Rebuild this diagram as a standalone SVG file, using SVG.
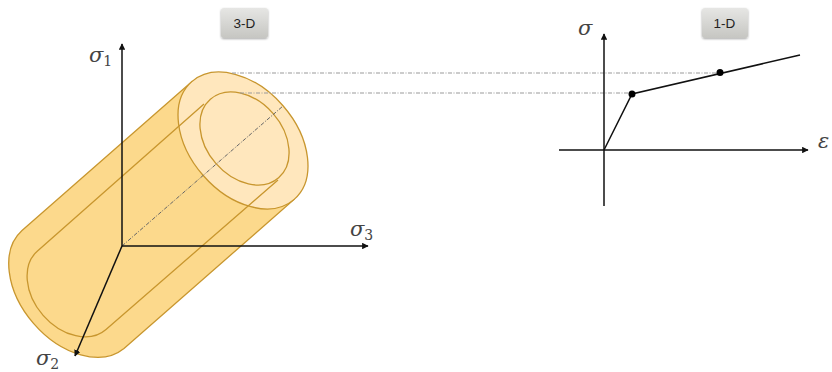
<svg xmlns="http://www.w3.org/2000/svg" width="832" height="372" viewBox="0 0 832 372">
<style>
.body{fill:#fcd98c;stroke:#c8962e;stroke-width:1.3}
.inner{fill:none;stroke:#c8962e;stroke-width:1.3}
.cap{fill:#ffe7bd;stroke:#c8962e;stroke-width:1.3}
.ax{stroke:#111;stroke-width:1.5;fill:none}
.dd{stroke:#999;stroke-width:1;stroke-dasharray:4 1.5 1 1.5;fill:none}
.dk{stroke:#666;stroke-width:1;stroke-dasharray:4 1.5 1 1.5;fill:none}
.sym{font-family:"DejaVu Serif","Liberation Serif",serif;font-style:italic;font-size:21px;fill:#444}
.sub{font-family:"DejaVu Serif","Liberation Serif",serif;font-style:normal;font-size:14px}
.btn{fill:url(#g);filter:url(#s)}
.bt{font-family:"Liberation Sans",Arial,sans-serif;font-size:13.5px;fill:#222;text-anchor:middle}
</style>
<defs>
<linearGradient id="g" x1="0" y1="0" x2="0" y2="1"><stop offset="0" stop-color="#e6e6e4"/><stop offset="1" stop-color="#c6c6c2"/></linearGradient>
<filter id="s" x="-20%" y="-20%" width="140%" height="150%"><feDropShadow dx="0" dy="1" stdDeviation="1" flood-color="#000" flood-opacity="0.35"/></filter>
<marker id="a" viewBox="0 0 10 10" refX="9" refY="5" markerWidth="6.5" markerHeight="6.5" orient="auto" markerUnits="userSpaceOnUse"><path d="M0 0L10 5L0 10z" fill="#111"/></marker>
</defs>
<g id="cylinder">
<path class="body" d="M192 81.5L22 230.5A78 53 49 0 0 124 348.5L294 199.5Z"/>
<ellipse class="cap" cx="243" cy="140.5" rx="78" ry="53" transform="rotate(49 243 140.5)"/>
<ellipse class="cap" cx="244.5" cy="138.5" rx="52" ry="38" transform="rotate(49 244.5 138.5)"/>
<path class="inner" d="M204 104L37.5 251A52 38 49 0 0 106 329.5L278 180"/>
</g>
<g id="connectors">
<path class="dk" d="M122 246L283 106"/>
<path class="dd" d="M232 73H720"/>
<path class="dd" d="M240 93H632"/>
<path class="ax" marker-end="url(#a)" d="M122 246V44"/>
<path class="ax" marker-end="url(#a)" d="M122 246H368"/>
<path class="ax" marker-end="url(#a)" d="M122 246L75 356"/>
<path class="ax" marker-end="url(#a)" d="M604 206V34"/>
<path class="ax" marker-end="url(#a)" d="M559 150H808"/>
<path class="ax" d="M604 150L632 94L800 55"/>
</g>
<g id="point-yield"><circle cx="632" cy="94" r="3.5" fill="#000"/></g>
<g id="point-hardening"><circle cx="720" cy="72.5" r="3.5" fill="#000"/></g>
<g id="label-s1"><text class="sym" x="89" y="62">σ<tspan class="sub" dy="4">1</tspan></text></g>
<g id="label-s2"><text class="sym" x="36" y="365">σ<tspan class="sub" dy="4">2</tspan></text></g>
<g id="label-s3"><text class="sym" x="350" y="236">σ<tspan class="sub" dy="4">3</tspan></text></g>
<g id="label-sigma"><text class="sym" x="578" y="35">σ</text></g>
<g id="label-eps"><text class="sym" x="818" y="148">ε</text></g>
<g id="btn-3d"><rect class="btn" x="221" y="8" width="47" height="30" rx="3"/><text class="bt" x="244.5" y="28">3-D</text></g>
<g id="btn-1d"><rect class="btn" x="702" y="8" width="46" height="30" rx="3"/><text class="bt" x="724.5" y="28">1-D</text></g>
</svg>
